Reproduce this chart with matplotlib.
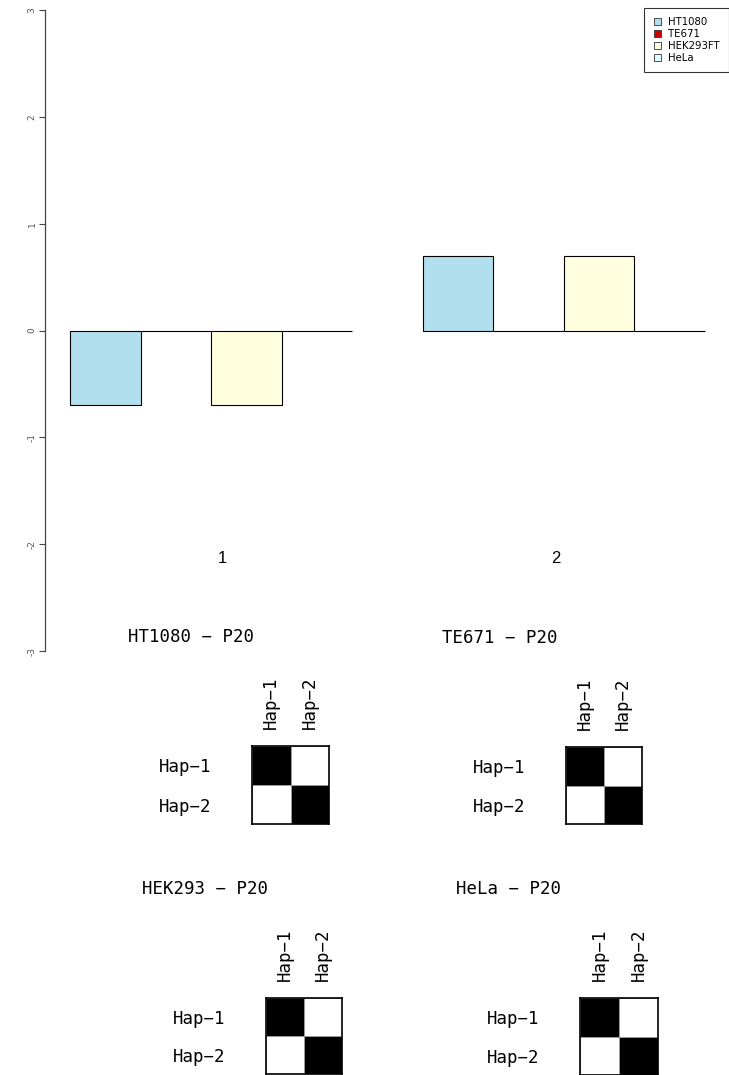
import matplotlib
matplotlib.use("Agg")
import matplotlib.pyplot as plt
from matplotlib.patches import Patch
import numpy as np

W, H = 729, 1075

# ---- data ----
groups = ["1", "2"]
series_names = ["HT1080", "TE671", "HEK293FT", "HeLa"]
series_colors = ["#B2DFEE", "#CD0000", "#FFFFE0", "#E0FFFF"]
HT1080 = [-0.7, 0.7]
TE671 = [0.0, 0.0]
HEK293FT = [-0.7, 0.7]
HeLa = [0.0, 0.0]
yticks = [-3, -2, -1, 0, 1, 2, 3]

heat_titles = ["HT1080 \u2212 P20", "TE671 \u2212 P20", "HEK293 \u2212 P20", "HeLa \u2212 P20"]
hap_labels = ["Hap\u22121", "Hap\u22122"]
ld_HT1080 = [[1, 0], [0, 1]]
ld_TE671 = [[1, 0], [0, 1]]
ld_HEK293 = [[1, 0], [0, 1]]
ld_HeLa = [[1, 0], [0, 1]]

fig = plt.figure(figsize=(W / 100, H / 100), dpi=100)


def px_axes(x0, y0, x1, y1):
    return fig.add_axes([x0 / W, 1 - y1 / H, (x1 - x0) / W, (y1 - y0) / H])


# ---- top bar chart ----
unit = 70.5
x_first = 70.5
ax = px_axes(45, 10, 729, 651)
ax.set_xlim(1 - (x_first - 45) / unit, 1 + (729 - x_first) / unit)
ax.set_ylim(-3, 3)

all_series = [HT1080, TE671, HEK293FT, HeLa]
group_starts = [1, 6]
for gi, gs in enumerate(group_starts):
    for si, (vals, col) in enumerate(zip(all_series, series_colors)):
        ax.bar(gs + si, vals[gi], width=1, align="edge", color=col,
               edgecolor="black", linewidth=0.8)

label_x = [3.16, 7.89]
for lx, g in zip(label_x, groups):
    ax.text(lx, -2.13, g, ha="center", va="center", fontsize=12,
            family="Liberation Sans", color="black")

for s in ["top", "right", "bottom"]:
    ax.spines[s].set_visible(False)
ax.spines["left"].set_bounds(-3, 3)
ax.spines["left"].set_color("#444444")
ax.spines["left"].set_linewidth(0.9)
ax.set_xticks([])
ax.set_yticks(yticks)
ax.set_yticklabels([str(t) for t in yticks], rotation=90, va="center",
                   fontsize=6.5, color="#555555")
ax.tick_params(axis="y", length=4.5, width=0.8, color="#444444", pad=1.5)

handles = [Patch(facecolor=c, edgecolor="#333333", linewidth=0.6) for c in series_colors]
leg = fig.legend(handles, series_names, loc="upper right",
                 bbox_to_anchor=(1.0, 1 - 8 / H), fontsize=7.3,
                 handlelength=0.75, handleheight=0.75, handletextpad=0.7,
                 labelspacing=0.2, borderpad=0.9, fancybox=False,
                 frameon=True, borderaxespad=0)
leg.get_frame().set_edgecolor("black")
leg.get_frame().set_linewidth(0.8)

# ---- heatmaps ----
boxes = [(252, 746, 329, 824), (566, 747, 642, 824),
         (266, 998, 342, 1074), (580, 998, 658, 1075)]
mats = [ld_HT1080, ld_TE671, ld_HEK293, ld_HeLa]
mono = "DejaVu Sans Mono"
for (x0, y0, x1, y1), m, title in zip(boxes, mats, heat_titles):
    hx = px_axes(x0, y0, x1, y1)
    arr = np.array(m, dtype=float)
    hx.pcolormesh(np.arange(3), np.arange(3), arr, cmap="Greys", vmin=0, vmax=1,
                  edgecolors="#999999", linewidth=0.5)
    hx.set_xlim(0, 2)
    hx.set_ylim(2, 0)
    for s in hx.spines.values():
        s.set_color("black")
        s.set_linewidth(1.2)
    hx.set_xticks([0.5, 1.5])
    hx.set_xticklabels(hap_labels, rotation=90, family=mono, fontsize=12.5)
    hx.xaxis.tick_top()
    hx.set_yticks([0.5, 1.5])
    hx.set_yticklabels(hap_labels, family=mono, fontsize=12.5)
    hx.tick_params(axis="x", length=0, pad=12)
    hx.tick_params(axis="y", length=0, pad=29)
    fig.text((x0 - 124) / W, 1 - (y0 - 109) / H, title, ha="left", va="center",
             family=mono, fontsize=12.5)

fig.savefig("out.png", dpi=100)
